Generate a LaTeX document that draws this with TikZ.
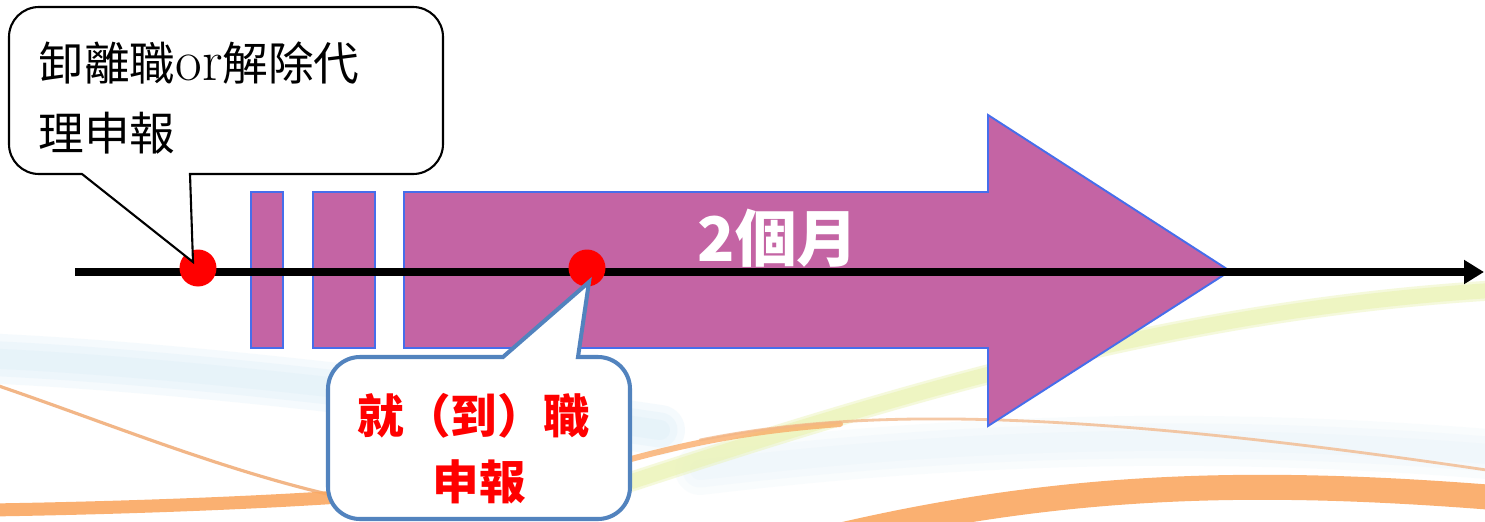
\documentclass[tikz,border=0pt]{standalone}
\usepackage{fontspec}
\newfontfamily\cjk{Noto Sans CJK TC}
\usetikzlibrary{arrows.meta,calc}
\definecolor{mag}{RGB}{196,100,164}
\definecolor{magedge}{RGB}{70,110,235}
\definecolor{callblue}{RGB}{82,131,190}
\definecolor{orA}{RGB}{250,168,98}
\definecolor{orB}{RGB}{242,182,135}
\definecolor{ygreen}{RGB}{234,243,178}
\definecolor{haze}{RGB}{205,230,245}
\begin{document}
\begin{tikzpicture}[x=0.02cm,y=-0.02cm,
  bgline/.style={line cap=round},
  magshape/.style={fill=mag, draw=magedge, line width=1.1pt},
  timeline/.style={line width=4.5pt, -{Triangle[length=0.4cm,width=0.46cm]}},
  reddot/.style={circle, fill=red, minimum size=0.74cm, inner sep=0pt},
  callA/.style={fill=white, draw=black, line width=1.2pt},
  callB/.style={fill=white, draw=callblue, line width=2.3pt},
  blacktext/.style={font=\cjk\fontsize{26}{30}\selectfont, inner sep=0pt},
  redtext/.style={font=\cjk\bfseries\fontsize{26.5}{30}\selectfont, text=red, inner sep=0pt},
  whitetext/.style={font=\cjk\bfseries\fontsize{35}{40}\selectfont, text=white, inner sep=0pt},
]
\useasboundingbox (0,0) rectangle (1485,521);
\fill[white] (0,0) rectangle (1485,521);
% background swooshes
\foreach \w in {1.0,0.7,0.4}{
  \draw[bgline, haze, line width=\w cm, opacity=0.18] (-20,358) .. controls (150,365) and (400,392) .. (660,430);
  \draw[bgline, haze, line width=\w cm, opacity=0.1] (700,470) .. controls (950,440) and (1200,430) .. (1500,455);
}
\draw[bgline, ygreen, line width=0.4cm, opacity=0.45] (560,505) .. controls (850,410) and (1150,310) .. (1500,290);
\draw[bgline, ygreen, line width=0.3cm, opacity=0.6] (560,505) .. controls (850,410) and (1150,310) .. (1500,290);
\draw[bgline, orB, line width=1.8pt] (-10,383) .. controls (100,420) and (220,470) .. (340,497);
\draw[bgline, orA, line width=0.26cm, opacity=0.9] (-10,510) .. controls (120,508) and (250,503) .. (340,497);
\draw[bgline, orA, line width=0.12cm, opacity=0.75] (620,462) .. controls (700,440) and (760,430) .. (840,424);
\draw[bgline, orB, line width=1.6pt, opacity=0.75] (700,440) .. controls (850,410) and (1050,405) .. (1500,472);
\draw[bgline, orA, line width=0.5cm, opacity=0.9] (800,545) .. controls (1050,482) and (1250,478) .. (1500,498);
% magenta shapes
\draw[magshape] (251,192) rectangle (283,348);
\draw[magshape] (313,192) rectangle (375,348);
\draw[magshape] (404,192) -- (988,192) -- (988,115) -- (1230,271) -- (988,426) -- (988,348) -- (404,348) -- cycle;
\node[whitetext] (tM) at (778,238) {2個月};
% timeline
\coordinate (t0) at (75,272);
\coordinate (t1) at (1484,272);
\draw[timeline] (t0) -- (t1);
% dots
\node[reddot] (d1) at (198,268) {};
\node[reddot] (d2) at (587,268) {};
\coordinate (tipA) at ($(d1)+(-5,-6)$);
\coordinate (tipB) at ($(d2)+(2,14)$);
% callout A
\draw[callA] (82,174) -- (39,174) arc[start angle=90,end angle=180,radius=30]
  -- (9,37) arc[start angle=180,end angle=270,radius=30]
  -- (413,7) arc[start angle=270,end angle=360,radius=30]
  -- (443,144) arc[start angle=0,end angle=90,radius=30]
  -- (190,174) -- (tipA) -- cycle;
\node[blacktext, anchor=west] (tA1) at (38,63) {卸離職{\rmfamily\fontsize{33}{33}\selectfont or}解除代};
\node[blacktext, anchor=west] (tA2) at (38,133) {理申報};
% callout B
\draw[callB] (503,357) -- (360,357) arc[start angle=270,end angle=180,radius=32]
  -- (328,487) arc[start angle=180,end angle=90,radius=32]
  -- (598,519) arc[start angle=90,end angle=0,radius=32]
  -- (630,389) arc[start angle=0,end angle=-90,radius=32]
  -- (578,357) -- (tipB) -- cycle;
\node[redtext] (tB1) at (474,416) {就（到）職};
\node[redtext] (tB2) at (479,482) {申報};
\end{tikzpicture}
\end{document}
